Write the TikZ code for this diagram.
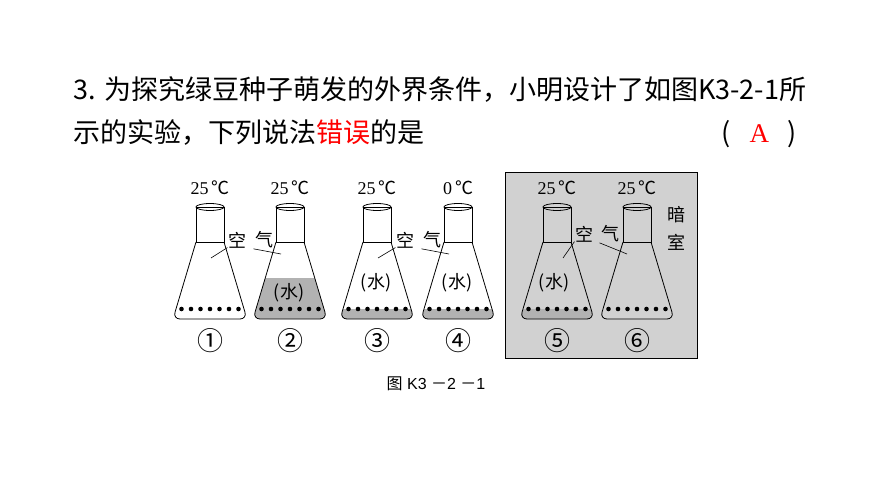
\documentclass[tikz,border=0pt]{standalone}
\usepackage{fontspec}
\newfontfamily\cjk{Noto Sans CJK SC}
\newfontfamily\labf{Liberation Serif}
\newfontfamily\capf{Liberation Sans}
\begin{document}
\begin{tikzpicture}[x=1pt,y=-1pt,
  fl/.style={draw=black,line width=0.8pt},
  tmp/.style={font=\labf\fontsize{18}{18}\selectfont},
  num/.style={font=\cjk\fontsize{26}{26}\selectfont},
  ch/.style={font=\cjk\fontsize{18}{18}\selectfont},
  q/.style={font=\cjk\fontsize{27}{27}\selectfont,anchor=base west}]
\useasboundingbox (0,0) rectangle (870,489);
\fill[black!18] (505,172) rectangle (697,358);
\draw[line width=0.9pt] (505,172) rectangle (697,358);
\newcommand{\flaskbody}[1]{(#1-14,242) -- (#1-37,319) -- (#1+37,319) -- (#1+14,242) -- cycle}
\newcommand{\flask}[3]{%
  \ifnum#2>0
  \begin{scope}\clip[rounded corners=7pt] \flaskbody{#1};\fill[black!30] (#1-40,#2) rectangle (#1+40,322);\end{scope}\fi
  \draw[fl] (#1-14,207) rectangle (#1+14,242);
  \draw[fl] (#1,207) ellipse [x radius=14,y radius=3.5];
  \draw[fl,rounded corners=7pt] (#1-14,242) -- (#1-37,319) -- (#1+37,319) -- (#1+14,242);
  \foreach \i in {-3,...,3} \fill (#1+\i*9.5,309) circle (2.3);
  \node[num] at (#1,341) {#3};
}
\flask{210}{0}{①}
\flask{290}{278}{②}
\flask{377}{309}{③}
\flask{458}{309}{④}
\flask{557}{309}{⑤}
\flask{637}{0}{⑥}
\foreach \x/\t in {210/25,290/25,377/25,458/0,557/25,637/25}
  \node[tmp] at (\x,188) {\t\,{\cjk ℃}};
\node[ch] at (289,293) {(水)};
\node[ch] at (376,283) {(水)};
\node[ch] at (457,283) {(水)};
\node[ch] at (554,283) {(水)};
\node[ch] (k1) at (237,240) {空};
\node[ch] (g1) at (264,240) {气};
\draw[line width=0.6pt] (k1.south west)++(3,-4) -- (211,258);
\draw[line width=0.6pt] (g1.south west)++(2,-3) -- (281,254);
\node[ch] (k2) at (405,240) {空};
\node[ch] (g2) at (432,240) {气};
\draw[line width=0.6pt] (k2.south west)++(3,-4) -- (378,258);
\draw[line width=0.6pt] (g2.south west)++(2,-3) -- (449,254);
\node[ch] (k3) at (584,234) {空};
\node[ch] (g3) at (610,234) {气};
\draw[line width=0.6pt] (k3.south west)++(3,-4) -- (563,258);
\draw[line width=0.6pt] (g3.south west)++(2,-3) -- (627,254);
\node[ch] at (676,215) {暗};
\node[ch] at (676,242) {室};
\node[q] at (70,100) {3.\hspace{0.3em}为探究绿豆种子萌发的外界条件，小明设计了如图K3-2-1所};
\node[q] at (70,143) {示的实验，下列说法\textcolor{red}{错误}的是};
\node[q] at (718,143) {(\hspace{0.7em}\textcolor{red}{\labf A}\hspace{0.7em})};
\node[font=\capf\fontsize{16}{16}\selectfont] at (436,384) {{\cjk 图} K3 {\cjk －}2 {\cjk －}1};
\end{tikzpicture}
\end{document}
